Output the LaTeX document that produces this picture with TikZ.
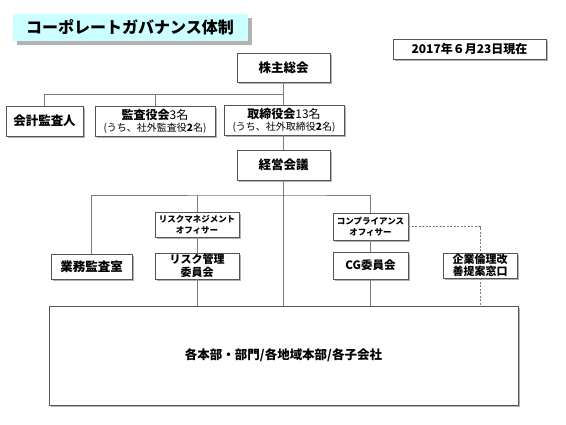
\documentclass[tikz,border=0pt]{standalone}
\usepackage{fontspec}
\setmainfont{Noto Sans CJK JP}
\usetikzlibrary{shadows}

\definecolor{linegray}{HTML}{7A7A7A}
\definecolor{boxgray}{HTML}{555555}
\definecolor{titlecyan}{HTML}{CCFFFF}

\tikzset{
  orgbox/.style={draw=boxgray,line width=0.8pt,fill=white,inner sep=0pt,align=center,
    font=\fontsize{12.5}{14}\selectfont\bfseries,
    drop shadow={shadow xshift=2pt,shadow yshift=-2pt,fill=gray!60,opacity=1}},
  smallbox/.style={orgbox,font=\fontsize{8.5}{11}\selectfont\bfseries},
  midbox/.style={orgbox,font=\fontsize{11}{12.5}\selectfont\bfseries},
  link/.style={draw=linegray,line width=0.8pt},
  dotlink/.style={link,dashed,dash pattern=on 2pt off 1.5pt}
}

\begin{document}
\begin{tikzpicture}[x=1pt,y=-1pt]
  \useasboundingbox (0,0) rectangle (566,424);
  \node[fill=titlecyan,inner sep=0pt,minimum width=235pt,minimum height=27pt,
    font=\fontsize{16}{18}\selectfont\bfseries,
    drop shadow={shadow xshift=4pt,shadow yshift=-4pt,fill=gray!60,opacity=1}]
    (title) at (130,27) {コーポレートガバナンス体制};
  \node[orgbox,minimum width=153pt,minimum height=20pt,font=\fontsize{12}{14}\selectfont\bfseries] (date) at (469.5,49) {2017年６月23日現在};

  \node[orgbox,minimum width=93pt,minimum height=29pt] (kabu) at (283.5,67.5) {株主総会};
  \node[orgbox,minimum width=77pt,minimum height=30pt] (kaikei) at (44.5,121) {会計監査人};
  \node[orgbox,minimum width=120pt,minimum height=30pt,font=\fontsize{12}{13}\selectfont\bfseries] (kansa) at (155,121)
    {監査役会{\mdseries 3名}\\[-1pt]{\fontsize{10}{12}\selectfont\mdseries (うち、社外監査役{\bfseries 2}名)}};
  \node[orgbox,minimum width=120pt,minimum height=30pt,font=\fontsize{12}{13}\selectfont\bfseries] (tori) at (284,120)
    {取締役会{\mdseries 13名}\\[-1pt]{\fontsize{10}{12}\selectfont\mdseries (うち、社外取締役{\bfseries 2}名)}};
  \node[orgbox,minimum width=93pt,minimum height=30pt] (keiei) at (283.5,165) {経営会議};

  \node[orgbox,minimum width=81pt,minimum height=25pt] (gyomu) at (91.5,266.5) {業務監査室};
  \node[smallbox,minimum width=84pt,minimum height=25pt] (riskoff) at (197,224.5) {リスクマネジメント\\オフィサー};
  \node[midbox,minimum width=84pt,minimum height=26pt] (riskiin) at (197,266) {リスク管理\\委員会};
  \node[smallbox,minimum width=75pt,minimum height=27pt] (compoff) at (370.5,226.5) {コンプライアンス\\オフィサー};
  \node[orgbox,minimum width=75pt,minimum height=27pt,font=\fontsize{11.5}{13}\selectfont\bfseries] (cg) at (370.5,265.5) {CG委員会};
  \node[midbox,minimum width=74pt,minimum height=25pt] (kigyo) at (480,265.5) {企業倫理改\\善提案窓口};

  \node[orgbox,minimum width=469pt,minimum height=99pt] (honbu) at (283.5,355.5) {各本部・部門/各地域本部/各子会社};

  \coordinate (upper) at (283,94);
  \coordinate (lower) at (283,195);
  \coordinate (hotline) at (480,226.5);

  \draw[link] (kabu.south) -- (tori.north -| kabu.south);
  \draw[link] (tori.south -| kabu.south) -- (keiei.north);
  \draw[link] (keiei.south) -- (honbu.north -| keiei.south);
  \draw[link] (kaikei.north) |- (upper);
  \draw[link] (kansa.north) -- (kansa.north |- upper);
  \draw[link] (gyomu.north) |- (lower) -| (compoff.north);
  \draw[link] (riskoff.north) -- (riskoff.north |- lower);
  \draw[link] (riskoff.south) -- (riskiin.north);
  \draw[link] (riskiin.south) -- (honbu.north -| riskiin.south);
  \draw[link] (compoff.south) -- (cg.north);
  \draw[link] (cg.south) -- (honbu.north -| cg.south);
  \draw[dotlink] (compoff.east) -- (hotline) -- (kigyo.north);
  \draw[dotlink] (kigyo.south) -- (honbu.north -| kigyo.south);
\end{tikzpicture}
\end{document}
